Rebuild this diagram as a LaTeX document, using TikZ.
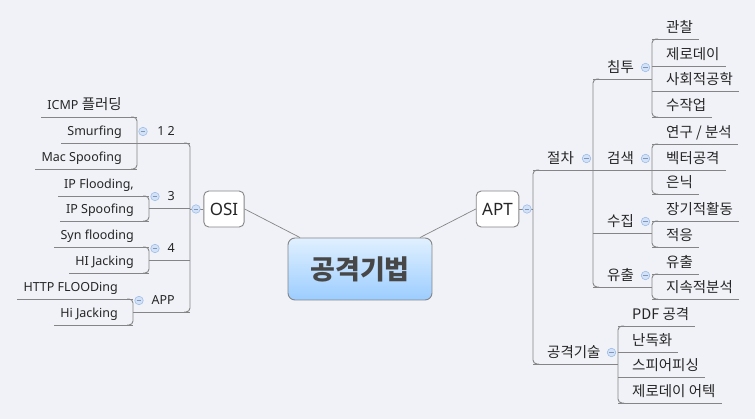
\documentclass[tikz,border=0pt]{standalone}
\usepackage{fontspec}
\setmainfont{Noto Sans}
\newfontfamily\kr{Noto Sans CJK KR}
\usetikzlibrary{positioning}
\definecolor{cBG}{HTML}{F1F2F7}
\definecolor{cLine}{HTML}{858585}
\definecolor{cFold}{HTML}{D3E2F7}
\definecolor{cFoldLine}{HTML}{9FBDE8}
\definecolor{cRootTop}{HTML}{E0F0FF}
\definecolor{cRootBot}{HTML}{9CCDFF}
\definecolor{cText}{HTML}{262626}

\tikzset{
  branch/.style={draw=cLine, line width=0.9pt},
  leaf/.style={inner xsep=6pt, inner ysep=4pt, text depth=3pt, text height=9pt, text=cText, font=\fontsize{12.5}{14}\selectfont},
  krleaf/.style={leaf, inner ysep=3pt, font=\kr\fontsize{14.5}{16}\selectfont},
  topic/.style={draw=cLine, fill=white, rounded corners=5pt, line width=0.9pt, minimum height=36pt, inner xsep=6pt, text=cText, font=\fontsize{17}{19}\selectfont},
  fold/.style={circle, minimum size=8.5pt, inner sep=0pt, fill=cFold, draw=cFoldLine, line width=0.6pt,
    path picture={\draw[cFoldLine!80!black, line width=0.8pt] ([xshift=-2.3pt]path picture bounding box.center) -- ([xshift=2.3pt]path picture bounding box.center);}}
}

\begin{document}
\begin{tikzpicture}[x=1pt, y=-1pt]
\useasboundingbox (0,0) rectangle (755,419);
\fill[cBG] (0,0) rectangle (755,419);

% centre and main topics
\node[draw=cLine, line width=0.9pt, rounded corners=7pt, top color=cRootTop, bottom color=cRootBot,
  minimum width=144pt, minimum height=62pt, text=cText!85!white, font=\kr\bfseries\fontsize{27}{29}\selectfont] (root) at (360,269) {공격기법};
\node[topic] (osi) at (224,209) {OSI};
\node[topic] (apt) at (497.5,209) {APT};
\draw[branch, line width=0.7pt] (osi.east) -- ([xshift=-60pt]root.north);
\draw[branch, line width=0.7pt] (apt.west) -- ([xshift=60pt]root.north);

% brackets
\draw[branch] (osi.west) -- (190,209);
\draw[branch] (apt.east) -- (533,209);
\foreach \bx/\ya/\yb in {190/143/312, 137/117/169, 149/196/221, 149/247/273, 133/299/325}
  \draw[branch, rounded corners=4pt] (\bx-6,\ya) -- (\bx,\ya) -- (\bx,\yb) -- (\bx-6,\yb);
\foreach \bx/\ya/\yb in {533/170/364, 593/79/287, 652/39/117, 652/144/194, 652/221/247, 652/274/299, 618/326/403}
  \draw[branch, rounded corners=4pt] (\bx+6,\ya) -- (\bx,\ya) -- (\bx,\yb) -- (\bx+6,\yb);

% OSI side
\foreach \t/\px/\cx/\yl [count=\i] in {1 2/190/137/143, 3/190/149/208, 4/190/149/260, APP/190/133/312} {
  \node[leaf, anchor=south east] (om\i) at (\px-9,\yl) {\t};
  \draw[branch] (\px,\yl) -- (\cx,\yl);
  \node[fold] (of\i) at (\cx+6,\yl-11.5) {};
}
\foreach \t/\bx/\yl [count=\i] in {ICMP {\kr\fontsize{14.5}{16}\selectfont 플러딩}/137/117, Smurfing/137/143, Mac Spoofing/137/169,
    {IP Flooding,}/149/196, IP Spoofing/149/221, Syn flooding/149/247, HI Jacking/149/273,
    HTTP FLOODing/133/299, Hi Jacking/133/325} {
  \node[leaf, anchor=south east] (ol\i) at (\bx-9,\yl) {\t};
  \draw[branch] (ol\i.south west) -- (\bx,\yl);
}
\node[fold] (fosi) at (196,209) {};

% APT side
\foreach \t/\px/\cx/\yl [count=\i] in {침투/593/652/79, 검색/593/652/170, 수집/593/652/233, 유출/593/652/287,
    절차/533/593/170, 공격기술/533/618/364} {
  \node[krleaf, anchor=south west] (am\i) at (\px+8,\yl) {\t};
  \draw[branch] (\px,\yl) -- (\cx,\yl);
  \node[fold] (af\i) at (\cx-6.5,\yl-11.5) {};
}
\foreach \t/\bx/\yl [count=\i] in {관찰/652/39, 제로데이/652/66, 사회적공학/652/91, 수작업/652/117,
    {연구 / 분석}/652/144, 벡터공격/652/170, 은닉/652/194, 장기적활동/652/221, 적응/652/247,
    유출/652/274, 지속적분석/652/299, PDF 공격/618/326, 난독화/618/352, 스피어피싱/618/377, 제로데이 어텍/618/403} {
  \node[krleaf, anchor=south west] (al\i) at (\bx+8,\yl) {\t};
  \draw[branch] (\bx,\yl) -- (al\i.south east);
}
\node[fold] (fapt) at (527,209) {};
\end{tikzpicture}
\end{document}
